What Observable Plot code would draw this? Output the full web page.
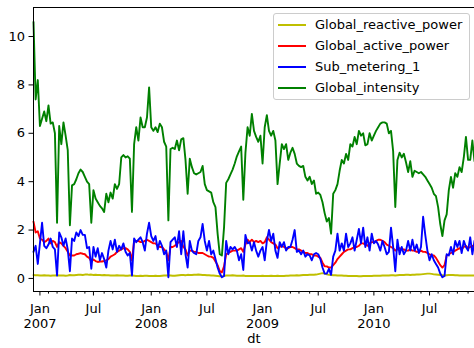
<!DOCTYPE html>
<html>
<head>
<meta charset="utf-8">
<script src="https://cdn.jsdelivr.net/npm/d3@7"></script>
<script src="https://cdn.jsdelivr.net/npm/@observablehq/plot@0.6"></script>
<style>
  body { margin: 0; background: #fff; font-family: "DejaVu Sans", sans-serif; }
  #wrap { position: relative; width: 474px; height: 348px; overflow: hidden; }
  #legend {
    position: absolute; left: 273px; top: 13px; width: 197px; height: 87px;
    box-sizing: border-box; border: 1px solid #cccccc; border-radius: 3px;
    background: rgba(255,255,255,0.8); font-size: 13px; color: #000;
  }
  #legend .row { position: absolute; left: 0; height: 20px; line-height: 20px; width: 100%; }
  #legend .sw { position: absolute; left: 4px; top: 9px; width: 28px; height: 2px; }
  #legend .lb { position: absolute; left: 41px; top: 0; white-space: nowrap; }
</style>
</head>
<body>
<div id="wrap"><div id="legend"></div></div>
<script>
// Weekly means, one value per week (weeks ending on Sunday, from 2006-12-17).
const globalReactivePower = [
  0.14,0.13,0.13,0.12,0.12,0.13,0.12,0.12,0.11,0.12,
  0.12,0.13,0.12,0.12,0.12,0.11,0.12,0.14,0.13,0.13,
  0.14,0.15,0.15,0.14,0.16,0.17,0.15,0.16,0.14,0.15,
  0.14,0.14,0.13,0.14,0.13,0.13,0.12,0.12,0.12,0.13,
  0.12,0.12,0.12,0.11,0.11,0.12,0.12,0.11,0.10,0.10,
  0.11,0.10,0.11,0.11,0.10,0.10,0.10,0.11,0.10,0.10,
  0.11,0.12,0.12,0.13,0.12,0.11,0.11,0.12,0.13,0.14,
  0.14,0.13,0.15,0.14,0.14,0.15,0.15,0.16,0.15,0.14,
  0.14,0.13,0.13,0.12,0.12,0.11,0.10,0.09,0.09,0.10,
  0.12,0.12,0.12,0.13,0.12,0.11,0.11,0.11,0.12,0.10,
  0.10,0.10,0.10,0.10,0.10,0.10,0.10,0.11,0.10,0.10,
  0.10,0.11,0.10,0.10,0.11,0.10,0.10,0.10,0.11,0.11,
  0.12,0.12,0.12,0.13,0.12,0.13,0.14,0.14,0.14,0.15,
  0.15,0.15,0.16,0.18,0.20,0.22,0.20,0.17,0.15,0.14,
  0.13,0.13,0.12,0.12,0.12,0.11,0.11,0.10,0.10,0.10,
  0.10,0.10,0.09,0.09,0.10,0.10,0.10,0.10,0.10,0.11,
  0.11,0.11,0.11,0.12,0.12,0.12,0.12,0.13,0.13,0.12,
  0.13,0.14,0.14,0.14,0.15,0.15,0.14,0.15,0.15,0.16,
  0.16,0.17,0.18,0.19,0.20,0.20,0.19,0.17,0.16,0.15,
  0.14,0.13,0.12,0.13,0.14,0.14,0.14,0.13,0.13,0.12,
  0.12,0.12,0.12,0.12,0.12,0.12,0.12
];

const globalActivePower = [
  2.35,1.90,1.95,1.65,1.60,1.50,1.55,1.65,1.45,1.55,
  1.50,1.30,1.50,1.45,1.35,1.25,1.10,0.95,0.95,0.95,
  1.00,1.02,1.05,1.02,1.00,0.90,0.85,0.70,0.78,0.72,
  0.68,0.70,0.70,0.72,0.75,0.80,0.90,0.95,1.00,1.10,
  1.15,1.20,1.25,1.25,1.20,1.10,0.75,1.55,1.55,1.55,
  1.50,1.50,1.55,1.60,1.55,1.50,1.45,1.45,1.35,1.30,
  1.30,1.20,1.10,0.75,1.30,1.30,1.35,1.45,1.50,1.55,
  1.30,1.20,0.95,1.15,1.15,1.10,1.10,1.05,1.05,1.05,
  1.00,0.95,0.90,0.90,0.85,0.70,0.55,0.30,0.25,0.50,
  1.00,1.05,1.10,1.15,1.15,1.15,1.20,1.25,1.10,1.40,
  1.60,1.50,1.60,1.50,1.55,1.50,1.55,1.45,1.50,1.70,
  1.60,1.50,1.45,1.40,1.25,1.30,1.35,1.30,1.25,1.25,
  1.30,1.30,1.25,1.20,1.20,1.15,1.10,1.05,1.05,1.00,
  1.00,0.95,0.95,0.90,0.85,0.65,0.50,0.50,0.45,0.45,
  0.55,0.65,0.80,0.90,1.00,1.10,1.15,1.20,1.20,1.25,
  1.30,1.30,1.35,1.45,1.45,1.40,1.35,1.45,1.50,1.50,
  1.55,1.60,1.60,1.55,1.50,1.40,1.35,1.30,1.25,1.15,
  1.20,1.25,1.20,1.20,1.15,1.15,1.20,1.15,1.15,1.10,
  1.10,1.15,1.10,1.10,1.05,1.00,0.95,0.95,0.85,0.70,
  0.55,0.45,0.55,0.95,1.00,1.05,1.10,1.15,1.20,1.25,
  1.20,1.30,1.35,1.25,1.30,1.35,1.30
];

const subMetering1 = [
  1.10,1.35,0.60,1.45,2.30,1.35,1.25,1.40,1.65,1.30,
  1.20,0.12,1.90,1.70,1.35,1.65,1.20,0.30,1.65,1.55,
  1.90,1.75,2.00,1.80,1.80,1.25,1.30,0.40,1.30,0.90,
  1.25,0.75,1.05,0.80,0.45,1.15,1.55,1.20,1.60,1.10,
  1.35,1.20,1.45,1.10,0.95,1.05,0.12,1.65,1.50,1.60,
  1.70,1.50,1.15,1.85,2.30,1.75,1.55,1.75,1.20,1.55,
  1.35,1.00,1.15,0.05,1.50,1.60,1.70,1.30,1.95,1.00,
  1.95,1.00,0.45,1.55,1.15,1.05,1.00,1.55,1.70,2.25,
  1.55,1.15,1.55,1.00,1.15,0.80,0.45,0.20,0.05,0.10,
  1.55,1.00,1.30,1.20,1.30,1.15,0.75,1.00,0.35,1.80,
  1.45,1.50,1.15,1.50,1.15,0.90,1.15,1.30,0.75,1.55,
  2.00,1.55,1.85,1.15,0.85,1.50,1.30,1.50,1.15,1.30,
  1.30,1.60,2.00,1.10,1.15,1.00,1.15,0.90,1.00,0.95,
  0.75,1.00,1.05,1.00,0.80,0.45,0.20,0.20,0.40,0.15,
  0.90,1.15,1.85,1.15,1.45,1.15,1.85,1.30,1.45,1.70,
  1.15,1.60,2.05,1.45,2.10,1.30,1.70,1.15,1.85,1.45,
  1.55,1.40,1.15,1.55,1.30,1.00,1.10,2.10,1.30,0.30,
  1.60,1.00,1.30,1.00,1.15,1.55,1.15,1.60,1.15,1.40,
  1.05,1.30,2.55,1.80,1.15,0.75,1.00,0.75,0.60,0.45,
  0.20,0.05,0.10,1.00,0.95,1.30,1.00,1.55,1.30,1.55,
  1.05,1.55,1.30,1.15,1.70,1.00,1.55
];

const globalIntensity = [
  10.6,7.40,8.20,6.30,6.60,6.90,6.50,7.15,6.40,6.45,
  6.00,2.30,6.30,5.55,6.45,5.90,5.30,2.20,3.85,3.90,
  4.10,4.35,4.50,4.40,4.20,4.00,3.90,2.30,3.65,3.30,
  3.15,3.00,2.90,2.75,3.50,3.15,3.55,3.30,3.90,3.70,
  3.90,5.00,5.10,5.00,5.05,4.95,2.75,5.55,6.25,5.70,
  6.65,6.25,6.25,6.65,7.90,6.25,6.10,6.25,6.05,6.40,
  6.25,5.65,5.45,2.40,5.35,5.40,5.35,5.70,5.30,5.75,
  5.80,4.90,3.50,4.95,4.60,4.35,4.30,4.35,4.40,4.65,
  3.90,3.65,3.60,3.55,3.15,2.95,1.85,1.00,0.95,2.10,
  3.95,4.10,4.30,4.50,4.75,5.05,5.25,5.45,3.25,5.20,
  6.25,5.90,6.80,6.10,5.85,5.65,5.90,4.75,6.25,6.75,
  6.10,5.90,6.10,5.70,3.90,4.75,5.55,5.35,5.55,4.90,
  5.20,5.40,5.15,4.75,4.65,4.60,4.65,4.20,4.05,4.20,
  3.90,4.05,3.50,3.55,3.45,3.15,2.70,2.35,2.50,1.85,
  3.50,3.65,3.90,4.45,4.90,4.75,5.15,4.90,5.55,5.45,
  5.85,5.55,6.10,5.90,6.00,5.50,5.55,6.00,5.70,5.90,
  6.10,6.25,6.40,6.45,6.45,6.40,6.00,6.10,5.25,2.95,
  4.90,5.20,5.00,5.15,4.80,4.40,4.85,4.20,4.45,4.40,
  4.35,4.40,4.30,4.20,4.05,3.90,3.75,3.50,3.40,2.95,
  2.25,1.75,2.40,2.65,3.65,4.20,3.75,4.35,4.20,4.60,
  4.40,5.00,5.85,4.90,4.90,5.70,4.85
];

const seriesNames = ["Global_reactive_power", "Global_active_power", "Sub_metering_1", "Global_intensity"];
const seriesColors = ["#bfbf00", "#ff0000", "#0000ff", "#008000"];
const seriesValues = [globalReactivePower, globalActivePower, subMetering1, globalIntensity];
const yTicks = [0, 2, 4, 6, 8, 10];
const firstWeek = new Date(Date.UTC(2006, 11, 17));

const n = globalIntensity.length;
const dates = d3.range(n).map(i => d3.utcDay.offset(firstWeek, 7 * i));

// Monthly ticks sit on the week that contains the first day of each month.
const months = d3.utcMonth.range(new Date(Date.UTC(2007, 0, 1)), new Date(Date.UTC(2010, 11, 1)));
const monthTicks = months.map(m => ({month: m, at: d3.utcSunday.ceil(m)}))
  .filter(t => t.at <= dates[n - 1]);
const majorTicks = monthTicks.filter(t => t.month.getUTCMonth() === 0 || t.month.getUTCMonth() === 6);
const minorTicks = monthTicks.filter(t => !majorTicks.includes(t));
const majorLabel = t => t.month.getUTCMonth() === 0 ? `Jan\n${t.month.getUTCFullYear()}` : "Jul";

const yDomain = [-0.54, 11.2];

const lines = seriesValues.map((vals, k) =>
  Plot.line(vals.map((v, i) => ({dt: dates[i], value: v})), {
    x: "dt", y: "value", stroke: seriesColors[k], strokeWidth: 1.9
  })
);

const chart = Plot.plot({
  width: 474,
  height: 348,
  marginTop: 7,
  marginBottom: 57,
  marginLeft: 33,
  marginRight: 0,
  style: {fontFamily: "DejaVu Sans", fontSize: "13px", background: "white", color: "black"},
  x: {type: "utc", domain: [dates[0], dates[n - 1]]},
  y: {domain: yDomain},
  marks: [
    ...lines,
    Plot.ruleX([dates[0]], {stroke: "black", strokeWidth: 1}),
    Plot.ruleY([yDomain[1]], {stroke: "black", strokeWidth: 1}),
    Plot.ruleY([yDomain[0]], {stroke: "black", strokeWidth: 1}),
    Plot.axisY({ticks: yTicks, tickSize: 4.5, tickPadding: 4, label: null, stroke: "black"}),
    Plot.axisX({ticks: minorTicks.map(t => t.at), tickSize: 2.6, tickFormat: () => "", label: null}),
    Plot.axisX({ticks: majorTicks.map(t => t.at), tickSize: 4.5, tickFormat: () => "", label: null}),
    Plot.text(majorTicks, {
      x: "at", text: majorLabel, frameAnchor: "bottom", lineAnchor: "top",
      dy: 12, lineHeight: 1.08, fontSize: 13, fill: "black"
    }),
    Plot.text(["dt"], {text: d => d, frameAnchor: "bottom", lineAnchor: "top", dy: 42, fontSize: 13, fill: "black"})
  ]
});

document.getElementById("wrap").prepend(chart);

const legend = document.getElementById("legend");
seriesNames.forEach((name, k) => {
  const row = document.createElement("div");
  row.className = "row";
  row.style.top = (1 + 21 * k) + "px";
  const sw = document.createElement("span");
  sw.className = "sw";
  sw.style.background = seriesColors[k];
  const lb = document.createElement("span");
  lb.className = "lb";
  lb.textContent = name;
  row.append(sw, lb);
  legend.append(row);
});
</script>
</body>
</html>
